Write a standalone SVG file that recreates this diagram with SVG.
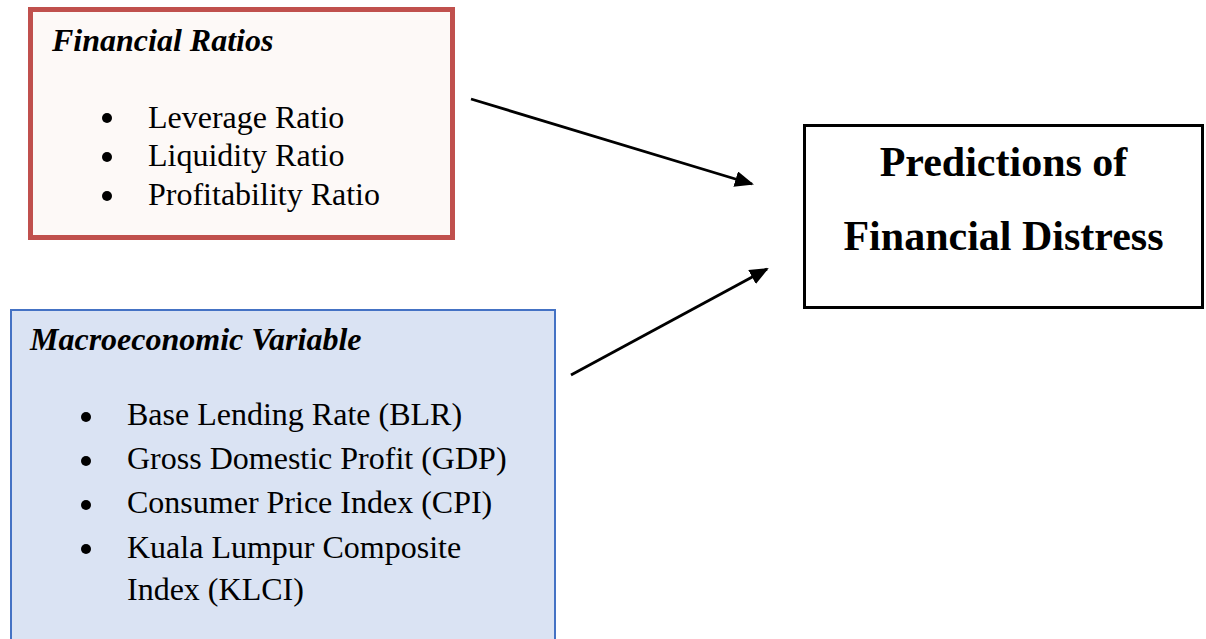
<svg xmlns="http://www.w3.org/2000/svg" width="1206" height="639" viewBox="0 0 1206 639">
  <style>
    .title { font-family: "Liberation Serif", "Times New Roman", serif; font-size: 32px; font-weight: bold; font-style: italic; fill: #000; }
    .item { font-family: "Liberation Serif", "Times New Roman", serif; font-size: 32px; fill: #000; }
    .big { font-family: "Liberation Serif", "Times New Roman", serif; font-size: 42px; font-weight: bold; fill: #000; text-anchor: middle; }
    .conn { stroke: #000; stroke-width: 2.8; fill: none; marker-end: url(#arrow); }
  </style>
  <defs>
    <marker id="arrow" markerUnits="userSpaceOnUse" markerWidth="22" markerHeight="18" refX="17" refY="8" orient="auto">
      <path d="M0,0 L19,8 L0,16 z" fill="#000"/>
    </marker>
  </defs>
  <rect width="1206" height="639" fill="#ffffff"/>

  <g id="financial-ratios">
    <rect x="30.5" y="9.5" width="422" height="228" fill="#fdf9f7" stroke="#c0504d" stroke-width="5"/>
    <text class="title" x="52" y="51">Financial Ratios</text>
    <circle cx="107" cy="118" r="5"/>
    <circle cx="107" cy="157" r="5"/>
    <circle cx="107" cy="196" r="5"/>
    <text class="item" x="148" y="128">Leverage Ratio</text>
    <text class="item" x="148" y="166">Liquidity Ratio</text>
    <text class="item" x="148" y="205">Profitability Ratio</text>
  </g>

  <g id="macroeconomic-variable">
    <rect x="11" y="310" width="544" height="350" fill="#dae3f3" stroke="#4472c4" stroke-width="2"/>
    <text class="title" x="30" y="350">Macroeconomic Variable</text>
    <circle cx="86" cy="417" r="5"/>
    <circle cx="86" cy="461" r="5"/>
    <circle cx="86" cy="505" r="5"/>
    <circle cx="86" cy="549" r="5"/>
    <text class="item" x="127" y="425">Base Lending Rate (BLR)</text>
    <text class="item" x="127" y="469">Gross Domestic Profit (GDP)</text>
    <text class="item" x="127" y="513">Consumer Price Index (CPI)</text>
    <text class="item" x="127" y="558">Kuala Lumpur Composite</text>
    <text class="item" x="127" y="600">Index (KLCI)</text>
  </g>

  <g id="predictions">
    <rect x="804.5" y="125.5" width="398" height="182" fill="#ffffff" stroke="#000" stroke-width="3"/>
    <text class="big" x="1003.5" y="176">Predictions of</text>
    <text class="big" x="1003.5" y="250">Financial Distress</text>
  </g>

  <g id="connectors">
    <line class="conn" x1="471" y1="99" x2="752" y2="184"/>
    <line class="conn" x1="571" y1="375" x2="767" y2="269"/>
  </g>
</svg>
